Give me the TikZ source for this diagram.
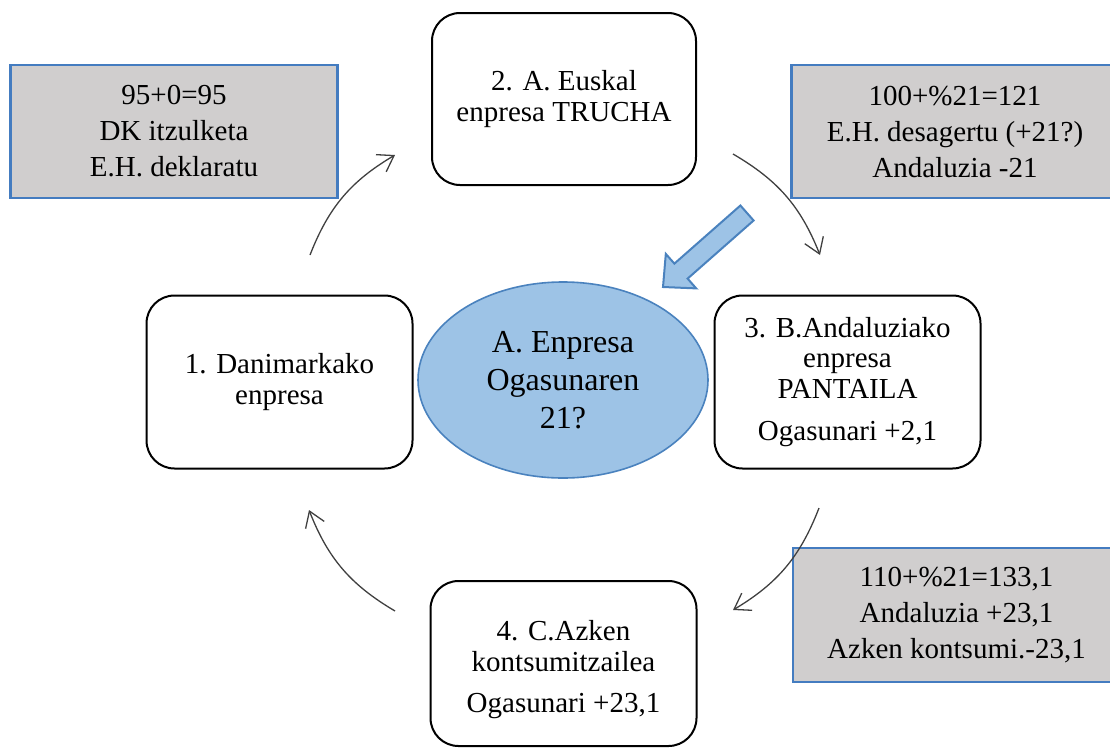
\documentclass[tikz,border=0pt]{standalone}
\usepackage{fontspec}
\setmainfont{Liberation Serif}
\usetikzlibrary{shapes.geometric,arrows.meta}

\definecolor{boxgray}{HTML}{D0CECE}
\definecolor{boxblue}{HTML}{447CC0}
\definecolor{ovalfill}{HTML}{9DC3E6}
\definecolor{ovalline}{HTML}{4A82BE}
\definecolor{flowline}{HTML}{404040}

\tikzset{
  stepbox/.style={draw=black, line width=2pt, rounded corners=28pt, fill=white,
    align=center, font=\fontsize{29}{30.5}\selectfont,
    minimum width=266pt, minimum height=173pt, inner sep=0pt},
  notebox/.style={draw=boxblue, line width=2.5pt, fill=boxgray,
    align=center, font=\fontsize{29}{36}\selectfont,
    minimum width=327pt, minimum height=133pt, inner sep=0pt},
  oval/.style={ellipse, draw=ovalline, line width=1.6pt, fill=ovalfill,
    align=center, font=\fontsize{32}{38}\selectfont,
    minimum width=290pt, minimum height=196pt, inner sep=0pt},
  flow/.style={draw=flowline, line width=1.3pt, bend left=19,
    -{Straight Barb[length=15pt,width=20pt,line width=1.3pt]}},
  bigarrow/.style={draw=ovalline, line width=2pt, fill=ovalfill, line join=miter}
}

\begin{document}
\begin{tikzpicture}[x=1pt,y=-1pt]
\useasboundingbox (0,0) rectangle (1110,747);
\clip (0,0) rectangle (1110,747);

% the four companies of the chain
\node[stepbox] (s1) at (279.5,382) {1. Danimarkako\\enpresa};
\node[stepbox, minimum width=264pt, minimum height=172pt] (s2) at (564,99) {2. A. Euskal\\enpresa TRUCHA};
\node[stepbox] (s3) at (847.5,382) {3. B.Andaluziako\\enpresa\\PANTAILA\\[12pt]Ogasunari +2,1};
\node[stepbox, minimum height=165pt] (s4) at (563.5,663.5)
  {\rule{0pt}{33pt}4. C.Azken\\kontsumitzailea\\[11pt]Ogasunari +23,1};

% tax office in the middle
\node[oval] (tax) at (563,380) {A. Enpresa\\Ogasunaren\\21?};

% grey notes with the VAT amounts
\node[notebox] (n1) at (174,131.5) {95+0=95\\DK itzulketa\\E.H. deklaratu};
\node[notebox] (n2) at (955,131.5) {100+\%21=121\\E.H. desagertu (+21?)\\Andaluzia -21};
\node[notebox, minimum height=134pt] (n3) at (956.5,615) {110+\%21=133,1\\Andaluzia +23,1\\Azken kontsumi.-23,1};

% ends of the curved flow arrows
\coordinate (a1s) at (310,255);
\coordinate (a1e) at (395,155);
\coordinate (a2s) at (733,154);
\coordinate (a2e) at (820,255);
\coordinate (a3s) at (819,508);
\coordinate (a3e) at (733,610);
\coordinate (a4s) at (395,611);
\coordinate (a4e) at (309,510);

\draw[flow] (a1s) to (a1e);
\draw[flow] (a2s) to (a2e);
\draw[flow] (a3s) to (a3e);
\draw[flow] (a4s) to (a4e);

% block arrow pointing at the tax office
\draw[bigarrow] (663,287) -- (696.2,288.4) -- (687.6,278.6) -- (753.6,220.5)
  -- (740.4,205.5) -- (674.4,263.6) -- (665.8,253.9) -- cycle;
\end{tikzpicture}
\end{document}
